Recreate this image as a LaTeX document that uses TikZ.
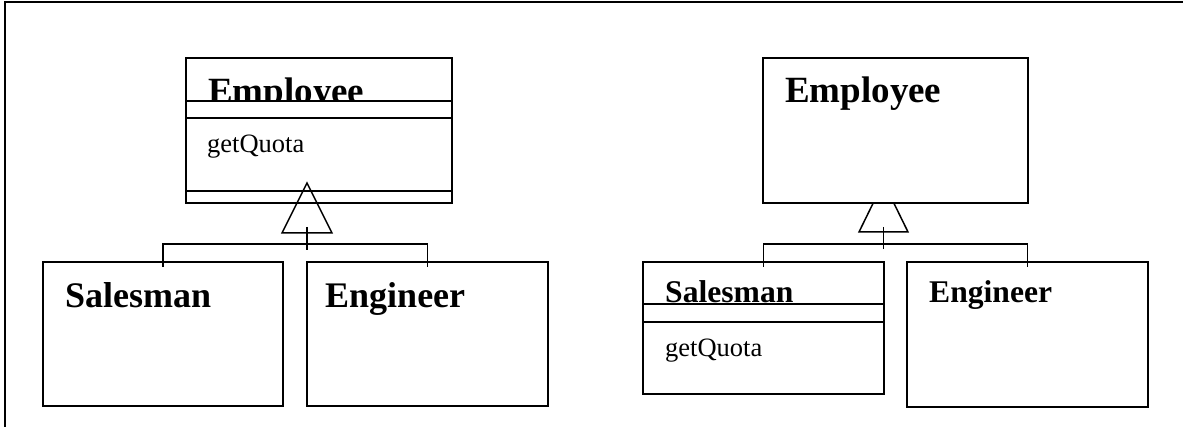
\documentclass[tikz,border=0pt]{standalone}
\usepackage{fontspec}
\setmainfont{Liberation Serif}
\begin{document}
\begin{tikzpicture}[x=1pt,y=-1pt,
  box/.style={draw,line width=2pt,fill=white,inner sep=0pt,outer sep=0pt,anchor=north west},
  band/.style={draw,line width=2pt,fill=white},
  conn/.style={line width=1.3pt},
  tri/.style={line width=1.5pt},
  titleA/.style={font=\bfseries\fontsize{37}{40}\selectfont,anchor=base west,inner sep=0pt},
  titleB/.style={font=\bfseries\fontsize{36}{40}\selectfont,anchor=base west,inner sep=0pt},
  titleC/.style={font=\bfseries\fontsize{31.6}{36}\selectfont,anchor=base west,inner sep=0pt},
  oper/.style={font=\fontsize{26.5}{30}\selectfont,anchor=base west,inner sep=0pt}]
\useasboundingbox (0,0) rectangle (1183,427);
% frame
\draw[line width=2.5pt] (5,427) -- (5,2) -- (1183,2);

% ---------- left diagram ----------
\node[box,minimum width=266pt,minimum height=145pt] (emp1) at (186,58) {};
\node[titleA] (emp1t) at (208,104) {Employee};
\draw[band] (186,101) rectangle (452,118);
\draw[line width=2pt] (186,191) -- (452,191);
\node[oper] (emp1o) at (207,153) {getQuota};

\node[box,minimum width=240pt,minimum height=144pt] (sal1) at (43,262) {};
\node[titleB] (sal1t) at (65,308) {Salesman};
\node[box,minimum width=241pt,minimum height=144pt] (eng1) at (307,262) {};
\node[titleB] (eng1t) at (325,308) {Engineer};

\coordinate (apex1) at (307,183);
\draw[tri] (apex1) -- ++(-25,50) -- ++(50,0) -- cycle;
\draw[conn] (apex1) ++(0,44) -- ++(0,23);
\draw[conn] ([yshift=-5pt]sal1.north) -- (sal1.north |- 0,244) -- (eng1.north |- 0,244) -- ([yshift=-5pt]eng1.north);

% ---------- right diagram ----------
\coordinate (apex2) at (883.5,182);
\draw[tri] (apex2) -- ++(-24.5,50) -- ++(49,0) -- cycle;
\draw[conn] (apex2) ++(0,45) -- ++(0,22);
\node[box,minimum width=265pt,minimum height=145pt] (emp2) at (763,58) {};
\node[titleA] (emp2t) at (785,103) {Employee};

\node[box,minimum width=241pt,minimum height=132pt] (sal2) at (643,262) {};
\node[titleC] (sal2t) at (665,303) {Salesman};
\draw[band] (643,304) rectangle (884,322);
\node[oper] (sal2o) at (665,357) {getQuota};

\node[box,minimum width=241pt,minimum height=145pt] (eng2) at (907,262) {};
\node[titleC] (eng2t) at (929,303) {Engineer};

\draw[conn] ([yshift=-5pt]sal2.north) -- (sal2.north |- 0,244) -- (eng2.north |- 0,244) -- ([yshift=-5pt]eng2.north);
\end{tikzpicture}
\end{document}
